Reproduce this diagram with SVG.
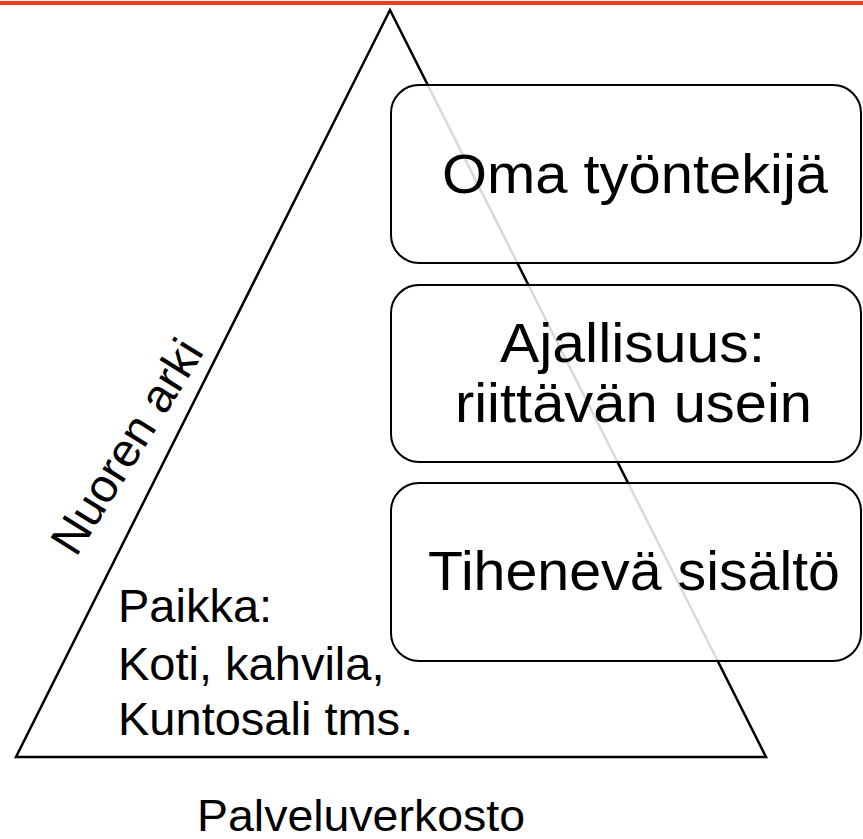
<svg xmlns="http://www.w3.org/2000/svg" width="863" height="839" viewBox="0 0 863 839">
<style>
.t{font-family:"Liberation Sans",Arial,sans-serif;fill:#000}
.big{font-size:55px}
.mid{font-size:47px}
.box{fill:#fff;fill-opacity:0.85;stroke:#000;stroke-width:2}
</style>
<rect width="863" height="839" fill="#fff"/>
<line x1="0" y1="3" x2="863" y2="3" stroke="#e8401c" stroke-width="4"/>
<g id="pyramid">
<polygon points="390,10 16,757 766,757" fill="none" stroke="#000" stroke-width="2.5"/>
</g>
<g id="connectors"></g>
<g id="box1">
<rect class="box" x="391" y="85" width="470" height="178" rx="28"/>
<text class="t big" x="442" y="193" textLength="386" lengthAdjust="spacingAndGlyphs">Oma työntekijä</text>
</g>
<g id="box2">
<rect class="box" x="391" y="285" width="470" height="177" rx="28"/>
<text class="t big" x="500" y="362" textLength="265" lengthAdjust="spacingAndGlyphs">Ajallisuus:</text>
<text class="t big" x="455" y="422" textLength="357" lengthAdjust="spacingAndGlyphs">riittävän usein</text>
</g>
<g id="box3">
<rect class="box" x="391" y="483" width="470" height="178" rx="28"/>
<text class="t big" x="428" y="590" textLength="412" lengthAdjust="spacingAndGlyphs">Tihenevä sisältö</text>
</g>
<g id="place">
<text class="t mid" x="118" y="622">Paikka:</text>
<text class="t mid" x="118" y="680">Koti, kahvila,</text>
<text class="t mid" x="118" y="735">Kuntosali tms.</text>
</g>
<text class="t mid" transform="translate(76,558) rotate(-58)">Nuoren arki</text>
<text class="t" style="font-size:44px" x="197" y="831" textLength="328" lengthAdjust="spacingAndGlyphs">Palveluverkosto</text>
</svg>
